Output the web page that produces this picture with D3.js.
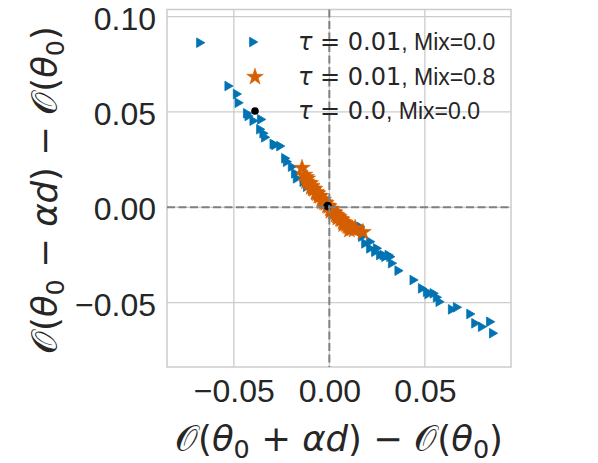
<!DOCTYPE html>
<html><head><meta charset="utf-8">
<script src="https://cdn.jsdelivr.net/npm/d3@7"></script>
<style>body{margin:0;background:#fff}svg{display:block}</style>
</head><body>
<svg id="c" width="598" height="463"></svg>
<script>
// ---- data ----
const xTicks = [-0.05, 0.0, 0.05];
const yTicks = [-0.05, 0.0, 0.05, 0.10];
const xTickLabels = ["\u22120.05", "0.00", "0.05"];
const yTickLabels = ["\u22120.05", "0.00", "0.05", "0.10"];
const seriesNames = ["0.01", "0.01", "0.0"];
const mixNames = ["Mix=0.0", "Mix=0.8", "Mix=0.0"];
const blueX = [-0.0677,-0.0529,-0.0485,-0.0476,-0.0432,-0.0424,-0.0398,-0.0358,-0.0363,-0.0346,-0.0337,-0.0293,-0.0284,-0.0258,-0.0232,-0.0223,-0.0197,-0.0180,-0.0171,-0.0136,-0.0118,-0.0091,-0.0059,0.0030,0.0066,0.0092,0.0117,0.0161,0.0170,0.0187,0.0213,0.0213,0.0239,0.0248,0.0265,0.0283,0.0292,0.0309,0.0318,0.0327,0.0361,0.0440,0.0484,0.0510,0.0545,0.0518,0.0562,0.0576,0.0641,0.0667,0.0737,0.0763,0.0798,0.0841,0.0856];
const blueY = [0.0863,0.0636,0.0594,0.0548,0.0493,0.0479,0.0454,0.0461,0.0409,0.0388,0.0367,0.0332,0.0327,0.0321,0.0257,0.0239,0.0213,0.0178,0.0152,0.0134,0.0108,0.0091,0.0059,-0.0035,-0.0067,-0.0088,-0.0110,-0.0102,-0.0154,-0.0189,-0.0180,-0.0215,-0.0233,-0.0215,-0.0250,-0.0250,-0.0259,-0.0250,-0.0259,-0.0293,-0.0332,-0.0381,-0.0425,-0.0442,-0.0451,-0.0454,-0.0472,-0.0495,-0.0535,-0.0524,-0.0559,-0.0608,-0.0626,-0.0600,-0.0660];
const orangeX = [-0.0143,-0.0130,-0.0122,-0.0115,-0.0108,-0.0100,-0.0092,-0.0085,-0.0078,-0.0070,-0.0062,-0.0055,-0.0048,-0.0040,-0.0032,-0.0025,-0.0018,-0.0010,-0.0003,0.0005,0.0012,0.0020,0.0028,0.0035,0.0042,0.0050,0.0058,0.0065,0.0072,0.0080,0.0088,0.0095,0.0102,0.0110,0.0120,0.0130,0.0176,-0.0120,-0.0095,-0.0068,-0.0035,0.0008,0.0045,0.0075,0.0105,0.0135];
const orangeY = [0.0206,0.0170,0.0158,0.0150,0.0128,0.0125,0.0112,0.0098,0.0095,0.0080,0.0072,0.0060,0.0058,0.0042,0.0038,0.0025,0.0022,0.0008,0.0005,-0.0008,-0.0010,-0.0025,-0.0028,-0.0040,-0.0045,-0.0052,-0.0062,-0.0065,-0.0078,-0.0082,-0.0090,-0.0098,-0.0102,-0.0110,-0.0112,-0.0118,-0.0130,0.0135,0.0105,0.0075,0.0030,-0.0020,-0.0055,-0.0090,-0.0118,-0.0108];
const blackX = [-0.0009];
const blackY = [0.0007];

// ---- layout ----
const svg = d3.select("#c");
const L = 167, R = 511, T = 9.5, B = 367;
const x = d3.scaleLinear().domain([-0.085, 0.0951]).range([L, R]);
const y = d3.scaleLinear().domain([-0.0837, 0.1037]).range([B, T]);
const txt = "#262626";
const fontMain = "'Liberation Sans', Arial, sans-serif";
const fontMath = "'DejaVu Sans', sans-serif";

// grid
const g = svg.append("g");
g.selectAll(".vx").data(xTicks).join("line")
  .attr("x1", d => x(d)).attr("x2", d => x(d)).attr("y1", T).attr("y2", B)
  .attr("stroke", "#cccccc").attr("stroke-width", 1.3);
g.selectAll(".hy").data(yTicks).join("line")
  .attr("y1", d => y(d)).attr("y2", d => y(d)).attr("x1", L).attr("x2", R)
  .attr("stroke", "#cccccc").attr("stroke-width", 1.3);

// axes via d3
const xAxis = svg.append("g").attr("transform", `translate(0,${B})`)
  .call(d3.axisBottom(x).tickValues(xTicks).tickSize(0).tickPadding(12)
    .tickFormat((d, i) => xTickLabels[i]));
xAxis.select(".domain").remove();
xAxis.selectAll("text").attr("font-family", fontMain).attr("font-size", 32).attr("fill", txt);
const yAxis = svg.append("g").attr("transform", `translate(${L},0)`)
  .call(d3.axisLeft(y).tickValues(yTicks).tickSize(0).tickPadding(11)
    .tickFormat((d, i) => yTickLabels[i]));
yAxis.select(".domain").remove();
yAxis.selectAll("text").attr("font-family", fontMain).attr("font-size", 32).attr("fill", txt).attr("dy", "0.39em");

// frame
svg.append("rect").attr("x", L).attr("y", T).attr("width", R - L).attr("height", B - T)
  .attr("fill", "none").attr("stroke", "#cccccc").attr("stroke-width", 1.5);

// markers
const tri = "M-3.4,-4.8 L4.8,0 L-3.4,4.8 Z";
const star = d3.symbol().type(d3.symbolStar).size(85)();
const blue = "#0173b2", orange = "#d55e00";
const blueData = blueX.map((v, i) => [v, blueY[i]]);
const orangeData = orangeX.map((v, i) => [v, orangeY[i]]);
const blackData = blackX.map((v, i) => [v, blackY[i]]);
svg.append("g").selectAll("path").data(blueData).join("path")
  .attr("d", tri).attr("transform", d => `translate(${x(d[0])},${y(d[1])})`)
  .attr("fill", blue).attr("stroke", blue).attr("stroke-width", 0.8);
svg.append("g").selectAll("path").data(orangeData).join("path")
  .attr("d", star).attr("transform", d => `translate(${x(d[0])},${y(d[1])})`)
  .attr("fill", orange).attr("stroke", orange).attr("stroke-width", 0.6);
svg.append("g").selectAll("circle").data(blackData).join("circle")
  .attr("cx", d => x(d[0])).attr("cy", d => y(d[1])).attr("r", 4.2).attr("fill", "#000");

// dashed zero lines on top
svg.append("line").attr("x1", x(0)).attr("x2", x(0)).attr("y1", T).attr("y2", B)
  .attr("stroke", "#808080").attr("stroke-width", 2).attr("stroke-dasharray", "8,3.5");
svg.append("line").attr("y1", y(0)).attr("y2", y(0)).attr("x1", L).attr("x2", R)
  .attr("stroke", "#808080").attr("stroke-width", 2).attr("stroke-dasharray", "8,3.5");

// legend
const rows = [42, 77, 111];
const lg = svg.append("g");
lg.append("path").attr("d", tri).attr("transform", `translate(253,${rows[0]})`).attr("fill", blue).attr("stroke", blue).attr("stroke-width", 0.8);
lg.append("path").attr("d", star).attr("transform", `translate(255,${rows[1]})`).attr("fill", orange).attr("stroke", orange).attr("stroke-width", 0.6);
lg.append("circle").attr("cx", 255).attr("cy", rows[2]).attr("r", 3.8).attr("fill", "#000");
rows.forEach((ry, i) => {
  const t = lg.append("text").attr("x", 298).attr("y", ry + 8).attr("fill", txt);
  t.append("tspan").attr("font-family", fontMath).attr("font-style", "italic").attr("font-size", 24).text("\u03c4");
  t.append("tspan").attr("font-family", fontMath).attr("font-size", 24).text(" = " + seriesNames[i]);
  t.append("tspan").attr("font-family", fontMain).attr("font-size", 23).text(", " + mixNames[i]);
});

// axis labels
function mathLabel(sel, parts) {
  parts.forEach(p => {
    const ts = sel.append("tspan").text(p.t).attr("font-family", fontMath);
    if (p.i) ts.attr("font-style", "italic");
    if (p.sub) ts.attr("font-size", 25.5).attr("dy", 7);
    if (p.up) ts.attr("dy", -7);
  });
}
const xl = svg.append("text").attr("x", 339).attr("y", 451).attr("text-anchor", "middle")
  .attr("font-size", 35.5).attr("fill", txt);
mathLabel(xl, [{t:"\ud835\udcaa"},{t:"("},{t:"\u03b8",i:1},{t:"0",sub:1},{t:" + ",up:1},{t:"\u03b1d",i:1},{t:") \u2212 "},{t:"\ud835\udcaa"},{t:"("},{t:"\u03b8",i:1},{t:"0",sub:1},{t:")",up:1}]);
const yl = svg.append("text").attr("transform", "translate(57,190) rotate(-90)").attr("text-anchor", "middle")
  .attr("font-size", 35.5).attr("fill", txt);
mathLabel(yl, [{t:"\ud835\udcaa"},{t:"("},{t:"\u03b8",i:1},{t:"0",sub:1},{t:" \u2212 ",up:1},{t:"\u03b1d",i:1},{t:") \u2212 "},{t:"\ud835\udcaa"},{t:"("},{t:"\u03b8",i:1},{t:"0",sub:1},{t:")",up:1}]);
</script>
</body></html>
